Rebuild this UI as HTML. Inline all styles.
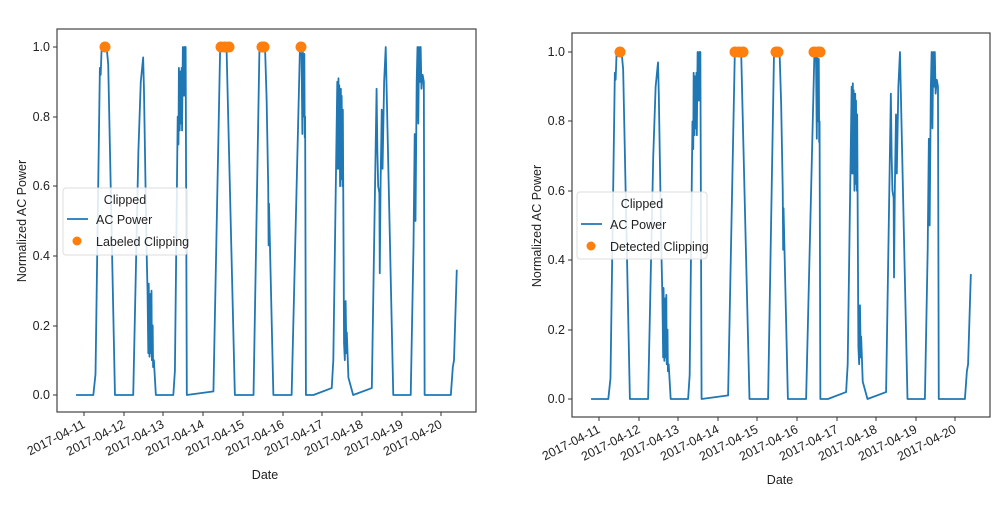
<!DOCTYPE html>
<html><head><meta charset="utf-8"><style>
html,body{margin:0;padding:0;background:#fff;}
svg{display:block;font-family:"Liberation Sans","DejaVu Sans",sans-serif;}
</style></head><body>
<svg width="1000" height="509" viewBox="0 0 1000 509" xmlns="http://www.w3.org/2000/svg">
<defs>
<polyline id="ser" fill="none" stroke="#1f77b4" stroke-width="1.8" vector-effect="non-scaling-stroke" stroke-linejoin="round" points="
-0.2,0 0.235,0 0.29,0.06 0.4,0.94 0.42,0.92 0.445,1 0.49,1 0.57,1 0.61,0.95 0.78,0
1.24,0 1.37,0.7 1.43,0.9 1.49,0.97 1.51,0.88 1.55,0.6 1.58,0.4 1.6,0.3 1.62,0.12 1.63,0.32 1.65,0.11 1.67,0.29 1.68,0.12 1.7,0.3 1.71,0.1 1.73,0.2 1.74,0.08 1.76,0.1 1.81,0
2.25,0 2.29,0.07 2.36,0.8 2.38,0.72 2.39,0.94 2.41,0.76 2.42,0.93 2.44,0.78 2.46,0.94 2.47,0.76 2.49,1 2.52,0.86 2.53,1 2.56,1 2.59,0
3.24,0.01 3.26,0.01 3.43,1 3.59,1 3.8,0
4.27,0 4.42,1 4.56,1 4.6,0.85 4.64,0.6 4.65,0.43 4.66,0.55 4.68,0.45 4.77,0
5.23,0 5.44,1 5.48,0.98 5.5,0.75 5.51,1 5.53,0.8 5.55,0.98 5.56,0.74 5.57,0.8 5.59,0
5.78,0 6.24,0.02 6.28,0.1 6.38,0.9 6.39,0.65 6.41,0.91 6.42,0.65 6.43,0.89 6.45,0.6 6.47,0.88 6.48,0.62 6.49,0.86 6.51,0.6 6.52,0.82 6.55,0.15 6.57,0.1 6.59,0.27 6.61,0.12 6.62,0.18 6.66,0.05 6.78,0
7.25,0.02 7.37,0.88 7.39,0.7 7.41,0.6 7.44,0.58 7.45,0.35 7.47,0.6 7.5,0.82 7.52,0.65 7.56,0.9 7.6,1 7.79,0
8.23,0 8.3,0.43 8.33,0.75 8.35,0.5 8.38,0.9 8.4,1 8.42,0.78 8.44,1 8.46,0.9 8.48,1 8.5,0.88 8.53,0.92 8.56,0.9 8.58,0 8.61,0
9.24,0 9.29,0.08 9.32,0.1 9.39,0.36"/>
</defs>

<!-- LEFT CHART -->
<g>
<rect x="57" y="29" width="419" height="383" fill="none" stroke="#444" stroke-width="1.2"/>
<g transform="translate(84,395) scale(39.7,-348)"><use href="#ser"/></g>
<g fill="#ff7f0e">
<circle cx="105" cy="47" r="5.5"/>
<circle cx="221" cy="47" r="5.5"/><circle cx="225" cy="47" r="5.5"/><circle cx="229" cy="47" r="5.5"/>
<circle cx="262" cy="47" r="5.5"/><circle cx="264" cy="47" r="5.5"/>
<circle cx="301" cy="47" r="5.5"/>
</g>
<g stroke="#333" stroke-width="1">
<line x1="53" y1="47" x2="57" y2="47"/><line x1="53" y1="117" x2="57" y2="117"/><line x1="53" y1="186" x2="57" y2="186"/><line x1="53" y1="256" x2="57" y2="256"/><line x1="53" y1="326" x2="57" y2="326"/><line x1="53" y1="395" x2="57" y2="395"/>
<line x1="84" y1="412" x2="84" y2="416"/><line x1="124" y1="412" x2="124" y2="416"/><line x1="163" y1="412" x2="163" y2="416"/><line x1="203" y1="412" x2="203" y2="416"/><line x1="243" y1="412" x2="243" y2="416"/><line x1="283" y1="412" x2="283" y2="416"/><line x1="322" y1="412" x2="322" y2="416"/><line x1="362" y1="412" x2="362" y2="416"/><line x1="402" y1="412" x2="402" y2="416"/><line x1="441" y1="412" x2="441" y2="416"/>
</g>
<g font-size="12.5" fill="#222" text-anchor="end">
<text x="50" y="51">1.0</text><text x="50" y="121">0.8</text><text x="50" y="190">0.6</text><text x="50" y="260">0.4</text><text x="50" y="330">0.2</text><text x="50" y="399">0.0</text>
</g>
<g font-size="12.5" fill="#222" text-anchor="end">
<text transform="translate(86,427) rotate(-27)">2017-04-11</text>
<text transform="translate(126,427) rotate(-27)">2017-04-12</text>
<text transform="translate(165,427) rotate(-27)">2017-04-13</text>
<text transform="translate(205,427) rotate(-27)">2017-04-14</text>
<text transform="translate(245,427) rotate(-27)">2017-04-15</text>
<text transform="translate(285,427) rotate(-27)">2017-04-16</text>
<text transform="translate(324,427) rotate(-27)">2017-04-17</text>
<text transform="translate(364,427) rotate(-27)">2017-04-18</text>
<text transform="translate(404,427) rotate(-27)">2017-04-19</text>
<text transform="translate(443,427) rotate(-27)">2017-04-20</text>
</g>
<text x="265" y="479" font-size="12.5" fill="#222" text-anchor="middle">Date</text>
<text transform="translate(26,221) rotate(-90)" font-size="12.5" fill="#222" text-anchor="middle">Normalized AC Power</text>
<rect x="63" y="188" width="124" height="67" rx="3" fill="#fff" fill-opacity="0.85" stroke="#ddd"/>
<text x="125" y="204" font-size="12.5" fill="#222" text-anchor="middle">Clipped</text>
<line x1="67" y1="219" x2="88" y2="219" stroke="#1f77b4" stroke-width="1.8"/>
<text x="96" y="224" font-size="12.5" fill="#222">AC Power</text>
<circle cx="77" cy="241" r="4.5" fill="#ff7f0e"/>
<text x="96" y="246" font-size="12.5" fill="#222">Labeled Clipping</text>
</g>

<!-- RIGHT CHART -->
<g>
<rect x="572" y="33" width="418" height="384" fill="none" stroke="#444" stroke-width="1.2"/>
<g transform="translate(599,399) scale(39.6,-347)"><use href="#ser"/></g>
<g fill="#ff7f0e">
<circle cx="620" cy="52" r="5.5"/>
<circle cx="735" cy="52" r="5.5"/><circle cx="739" cy="52" r="5.5"/><circle cx="743" cy="52" r="5.5"/>
<circle cx="776" cy="52" r="5.5"/><circle cx="778" cy="52" r="5.5"/>
<circle cx="814" cy="52" r="5.5"/><circle cx="818" cy="52" r="5.5"/><circle cx="820" cy="52" r="5.5"/>
</g>
<g stroke="#333" stroke-width="1">
<line x1="568" y1="52" x2="572" y2="52"/><line x1="568" y1="121" x2="572" y2="121"/><line x1="568" y1="191" x2="572" y2="191"/><line x1="568" y1="260" x2="572" y2="260"/><line x1="568" y1="330" x2="572" y2="330"/><line x1="568" y1="399" x2="572" y2="399"/>
<line x1="599" y1="417" x2="599" y2="421"/><line x1="639" y1="417" x2="639" y2="421"/><line x1="678" y1="417" x2="678" y2="421"/><line x1="718" y1="417" x2="718" y2="421"/><line x1="757" y1="417" x2="757" y2="421"/><line x1="797" y1="417" x2="797" y2="421"/><line x1="837" y1="417" x2="837" y2="421"/><line x1="876" y1="417" x2="876" y2="421"/><line x1="916" y1="417" x2="916" y2="421"/><line x1="955" y1="417" x2="955" y2="421"/>
</g>
<g font-size="12.5" fill="#222" text-anchor="end">
<text x="565" y="56">1.0</text><text x="565" y="125">0.8</text><text x="565" y="195">0.6</text><text x="565" y="264">0.4</text><text x="565" y="334">0.2</text><text x="565" y="403">0.0</text>
</g>
<g font-size="12.5" fill="#222" text-anchor="end">
<text transform="translate(601,432) rotate(-27)">2017-04-11</text>
<text transform="translate(641,432) rotate(-27)">2017-04-12</text>
<text transform="translate(680,432) rotate(-27)">2017-04-13</text>
<text transform="translate(720,432) rotate(-27)">2017-04-14</text>
<text transform="translate(759,432) rotate(-27)">2017-04-15</text>
<text transform="translate(799,432) rotate(-27)">2017-04-16</text>
<text transform="translate(839,432) rotate(-27)">2017-04-17</text>
<text transform="translate(878,432) rotate(-27)">2017-04-18</text>
<text transform="translate(918,432) rotate(-27)">2017-04-19</text>
<text transform="translate(957,432) rotate(-27)">2017-04-20</text>
</g>
<text x="780" y="484" font-size="12.5" fill="#222" text-anchor="middle">Date</text>
<text transform="translate(541,226) rotate(-90)" font-size="12.5" fill="#222" text-anchor="middle">Normalized AC Power</text>
<rect x="577" y="192" width="130" height="67" rx="3" fill="#fff" fill-opacity="0.85" stroke="#ddd"/>
<text x="642" y="208" font-size="12.5" fill="#222" text-anchor="middle">Clipped</text>
<line x1="581" y1="224" x2="602" y2="224" stroke="#1f77b4" stroke-width="1.8"/>
<text x="610" y="229" font-size="12.5" fill="#222">AC Power</text>
<circle cx="591" cy="246" r="4.5" fill="#ff7f0e"/>
<text x="610" y="251" font-size="12.5" fill="#222">Detected Clipping</text>
</g>
</svg>
</body></html>
